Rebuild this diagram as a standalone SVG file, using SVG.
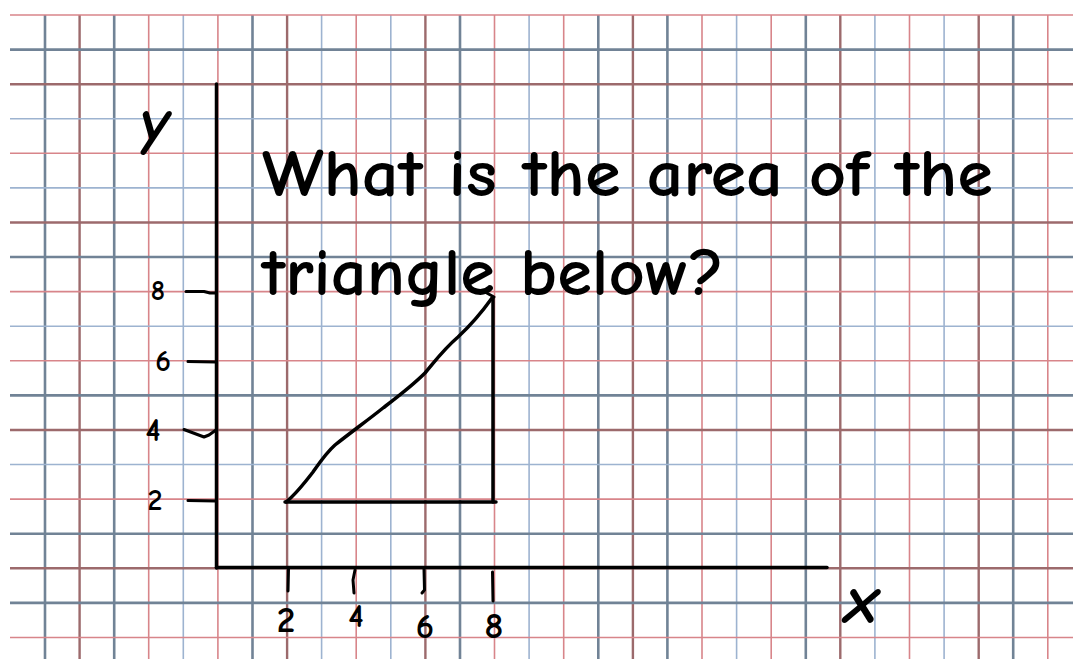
<svg xmlns="http://www.w3.org/2000/svg" width="1073" height="659" viewBox="0 0 1073 659">
<style>
.r{stroke:#d8858a;stroke-width:1.6}
.dr{stroke:#9c6a6c;stroke-width:2.4}
.b{stroke:#9db3d0;stroke-width:1.6}
.s{stroke:#718396;stroke-width:2.6}
.ink{fill:none;stroke:#000;stroke-width:3.5;stroke-linecap:round;stroke-linejoin:round}
.thin{fill:none;stroke:#000;stroke-width:3;stroke-linecap:round;stroke-linejoin:round}
.t{font-family:"Comic Sans MS","Comic Neue","DejaVu Sans",sans-serif;fill:#000;font-weight:bold}
</style>
<rect width="1073" height="659" fill="#fff"/>
<g id="grid">
<g id="grid-v">
<line class="s" x1="45" y1="15" x2="45" y2="659"/>
<line class="dr" x1="79.6" y1="15" x2="79.6" y2="659"/>
<line class="s" x1="114.2" y1="15" x2="114.2" y2="659"/>
<line class="r" x1="148.7" y1="15" x2="148.7" y2="659"/>
<line class="b" x1="183.3" y1="15" x2="183.3" y2="659"/>
<line class="r" x1="217.9" y1="15" x2="217.9" y2="659"/>
<line class="s" x1="252.5" y1="15" x2="252.5" y2="659"/>
<line class="dr" x1="287.1" y1="15" x2="287.1" y2="659"/>
<line class="b" x1="321.6" y1="15" x2="321.6" y2="659"/>
<line class="r" x1="356.2" y1="15" x2="356.2" y2="659"/>
<line class="b" x1="390.8" y1="15" x2="390.8" y2="659"/>
<line class="dr" x1="425.4" y1="15" x2="425.4" y2="659"/>
<line class="s" x1="460" y1="15" x2="460" y2="659"/>
<line class="r" x1="494.5" y1="15" x2="494.5" y2="659"/>
<line class="b" x1="529.1" y1="15" x2="529.1" y2="659"/>
<line class="r" x1="563.7" y1="15" x2="563.7" y2="659"/>
<line class="s" x1="598.3" y1="15" x2="598.3" y2="659"/>
<line class="dr" x1="632.9" y1="15" x2="632.9" y2="659"/>
<line class="s" x1="667.4" y1="15" x2="667.4" y2="659"/>
<line class="r" x1="702" y1="15" x2="702" y2="659"/>
<line class="b" x1="736.6" y1="15" x2="736.6" y2="659"/>
<line class="r" x1="771.2" y1="15" x2="771.2" y2="659"/>
<line class="s" x1="805.8" y1="15" x2="805.8" y2="659"/>
<line class="dr" x1="840.3" y1="15" x2="840.3" y2="659"/>
<line class="b" x1="874.9" y1="15" x2="874.9" y2="659"/>
<line class="r" x1="909.5" y1="15" x2="909.5" y2="659"/>
<line class="b" x1="944.1" y1="15" x2="944.1" y2="659"/>
<line class="dr" x1="978.7" y1="15" x2="978.7" y2="659"/>
<line class="s" x1="1013.2" y1="15" x2="1013.2" y2="659"/>
<line class="r" x1="1047.8" y1="15" x2="1047.8" y2="659"/>
</g>
<g id="grid-h">
<line class="r" x1="10" y1="15" x2="1073" y2="15"/>
<line class="s" x1="10" y1="49.6" x2="1073" y2="49.6"/>
<line class="dr" x1="10" y1="84.2" x2="1073" y2="84.2"/>
<line class="b" x1="10" y1="118.7" x2="1073" y2="118.7"/>
<line class="r" x1="10" y1="153.3" x2="1073" y2="153.3"/>
<line class="b" x1="10" y1="187.9" x2="1073" y2="187.9"/>
<line class="dr" x1="10" y1="222.5" x2="1073" y2="222.5"/>
<line class="s" x1="10" y1="257" x2="1073" y2="257"/>
<line class="r" x1="10" y1="291.6" x2="1073" y2="291.6"/>
<line class="b" x1="10" y1="326.2" x2="1073" y2="326.2"/>
<line class="r" x1="10" y1="360.8" x2="1073" y2="360.8"/>
<line class="s" x1="10" y1="395.4" x2="1073" y2="395.4"/>
<line class="dr" x1="10" y1="430" x2="1073" y2="430"/>
<line class="b" x1="10" y1="464.5" x2="1073" y2="464.5"/>
<line class="r" x1="10" y1="499.1" x2="1073" y2="499.1"/>
<line class="s" x1="10" y1="533.7" x2="1073" y2="533.7"/>
<line class="dr" x1="10" y1="568.3" x2="1073" y2="568.3"/>
<line class="s" x1="10" y1="602.9" x2="1073" y2="602.9"/>
<line class="r" x1="10" y1="637.5" x2="1073" y2="637.5"/>
</g>
</g>
<g id="axes">
<line class="ink" x1="216.5" y1="84" x2="216.5" y2="568"/>
<line class="ink" x1="216.5" y1="567.5" x2="827" y2="567.5"/>
<path class="thin" d="M186 291.5 L204 291.5 L210 293 L216 293"/>
<path class="thin" d="M188 361.5 L216 362"/>
<path class="thin" d="M184 429.5 L204 437 L209 435 L216 430"/>
<path class="thin" d="M188 500.5 L216 501"/>
<path class="thin" d="M288.5 569 L288 591"/>
<path class="thin" d="M355 570 L353 580 L354 593"/>
<path class="thin" d="M424 569 L424.5 590 L422 593"/>
<path class="thin" d="M492.5 572 L493 601"/>
</g>
<g id="labels">
<text class="t" x="140" y="143" font-size="64" font-style="italic">y</text>
<text class="t" x="845" y="623" font-size="68" font-style="italic">x</text>
<text class="t" x="158" y="300" font-size="28" text-anchor="middle">8</text>
<text class="t" x="163" y="371" font-size="30" text-anchor="middle">6</text>
<text class="t" x="153" y="441" font-size="32" text-anchor="middle">4</text>
<text class="t" x="155" y="510" font-size="30" text-anchor="middle">2</text>
<text class="t" x="286" y="632" font-size="37" text-anchor="middle">2</text>
<text class="t" x="356" y="627" font-size="33" text-anchor="middle">4</text>
<text class="t" x="425" y="638" font-size="35" text-anchor="middle">6</text>
<text class="t" x="494" y="638" font-size="37" text-anchor="middle">8</text>
<text class="t" x="262" y="196" font-size="66" textLength="731" lengthAdjust="spacingAndGlyphs">What is the area of the</text>
<text class="t" x="262" y="295" font-size="66" textLength="462" lengthAdjust="spacingAndGlyphs">triangle below?</text>
</g>
<g id="triangle">
<path class="ink" d="M286 502 C295 495 303 485 313 472 C320 462 326 453 335 445 C350 433 368 420 383 408 C400 395 412 386 425 373 C436 360 443 350 458 337 C472 324 482 312 492 298"/>
<path class="ink" d="M285 502 L496 502"/>
<path class="ink" d="M493 298 L493 502"/>
<path class="thin" d="M485 292 L494 297"/>
</g>
</svg>
